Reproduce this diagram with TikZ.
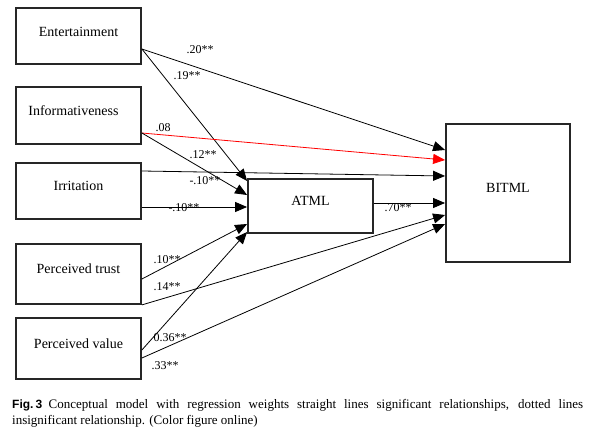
\documentclass[tikz,border=0pt]{standalone}
\usepackage{fontspec}
\setmainfont{Liberation Serif}
\setsansfont{Liberation Sans}
\usetikzlibrary{arrows.meta,calc}
\tikzset{
  box/.style={draw=black!85, line width=1.8pt, rectangle, inner sep=0pt},
  boxtext/.style={font=\fontsize{14}{16}\selectfont},
  conn/.style={draw=black, line width=0.8pt, -{Triangle[length=12pt,width=10pt]}},
  redconn/.style={draw=red, line width=0.8pt, -{Triangle[length=12pt,width=10pt]}, color=red},
  wt/.style={font=\fontsize{12}{14}\selectfont, inner sep=0pt}
}
\begin{document}
\begin{tikzpicture}[x=1pt,y=-1pt]
\useasboundingbox (0,0) rectangle (595,441);
% boxes
\node[box, minimum width=125pt, minimum height=56pt] (ent) at (78.5,36) {};
\node[box, minimum width=125pt, minimum height=57pt] (inf) at (78.5,115.5) {};
\node[box, minimum width=125pt, minimum height=56pt] (irr) at (78.5,191) {};
\node[box, minimum width=125pt, minimum height=60pt] (tru) at (78.5,274) {};
\node[box, minimum width=125pt, minimum height=61pt] (val) at (78.5,348.5) {};
\node[box, minimum width=125pt, minimum height=54pt] (atml) at (310.5,206) {};
\node[box, minimum width=124pt, minimum height=138pt] (bitml) at (508,193) {};
% box texts
\node[boxtext] (entT) at ($(ent.center)+(0,-4)$) {Entertainment};
\node[boxtext] (infT) at ($(inf.center)+(-5,-5)$) {Informativeness};
\node[boxtext] (irrT) at ($(irr.center)+(0,-5)$) {Irritation};
\node[boxtext] (truT) at ($(tru.center)+(0,-5)$) {Perceived trust};
\node[boxtext] (valT) at ($(val.center)+(0,-5)$) {Perceived value};
\node[boxtext] (atmlT) at ($(atml.center)+(0,-5)$) {ATML};
\node[boxtext] (bitmlT) at ($(bitml.center)+(0,-5)$) {BITML};
% connectors
\draw[conn] ([yshift=-13pt]ent.east) -- ([yshift=43pt]bitml.west);
\draw[conn] ([yshift=-13pt]ent.east) -- ([yshift=25pt]atml.west);
\draw[redconn] ([yshift=-17.5pt]inf.east) -- ([yshift=33pt]bitml.west);
\draw[conn] ([yshift=-17.5pt]inf.east) -- ([yshift=11pt]atml.west);
\draw[conn] ([yshift=20pt]irr.east) -- ([yshift=17pt]bitml.west);
\draw[conn] ([yshift=-16pt]irr.east) -- ([yshift=-1pt]atml.west);
\draw[conn] ([yshift=3pt]atml.east) -- ([yshift=-10pt]bitml.west);
\draw[conn] ([yshift=-5pt]tru.east) -- ([yshift=-18pt]atml.west);
\draw[conn] (tru.south east) -- ([yshift=-22pt]bitml.west);
\draw[conn] ([yshift=-1.5pt]val.east) -- ([yshift=-26pt]atml.west);
\draw[conn] ([yshift=-9.5pt]val.east) -- ([yshift=-31pt]bitml.west);
% weights
\node[wt] (w1) at (200,50) {.20**};
\node[wt] (w2) at (187,76) {.19**};
\node[wt] (w3) at (163,128) {.08};
\node[wt] (w4) at (203,155) {.12**};
\node[wt] (w5) at (205,181) {-.10**};
\node[wt] (w6) at (184,208) {-.10**};
\node[wt] (w7) at (398,208) {.70**};
\node[wt] (w8) at (167,260) {.10**};
\node[wt] (w9) at (167,287) {.14**};
\node[wt] (w10) at (170,338) {0.36**};
\node[wt] (w11) at (165,366) {.33**};
% caption
\node[anchor=north west, inner sep=0pt, text width=571pt, align=justify, font=\fontsize{13}{16.5}\selectfont] (cap) at (12,399)
{{\fontsize{12}{16}\sffamily\bfseries Fig.\,3}\hspace{0.5em}Conceptual model with regression weights straight lines significant relationships, dotted lines\linebreak insignificant relationship. (Color figure online)};
\end{tikzpicture}
\end{document}
